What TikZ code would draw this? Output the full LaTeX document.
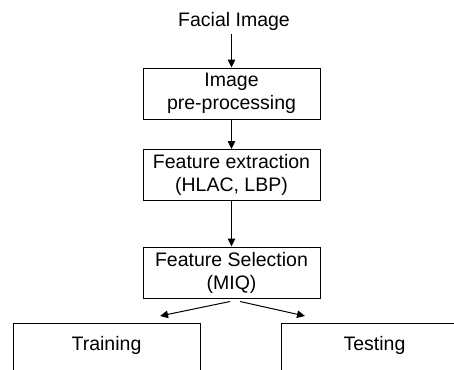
\documentclass[tikz,border=0pt]{standalone}
\usepackage{fontspec}
\setmainfont{Liberation Sans}
\usetikzlibrary{arrows.meta,calc}

\begin{document}
\begin{tikzpicture}[x=1pt, y=-1pt, >={Triangle[length=8pt,width=7.5pt]}, line width=1pt,
    every node/.style={font=\fontsize{19.5}{23}\selectfont},
    stage/.style={draw, align=center, minimum width=177pt, minimum height=51pt, inner sep=0pt},
    branch/.style={draw, minimum width=187pt, text height=27pt, text depth=40pt, inner ysep=0pt, anchor=base}]
    % Frame
    \useasboundingbox (0,0) rectangle (454,369);
    \clip (0,0) rectangle (454,369);

    % Input
    \node (face) at (234,21) {Facial Image};

    % Stages
    \node[stage] (prep) at (231.5,93.5) {Image\\pre-processing};
    \node[stage] (extract) at (231.5,175) {Feature extraction\\(HLAC, LBP)};
    \node[stage] (select) at (231.5,272.5) {Feature Selection\\(MIQ)};

    % Training and testing
    \node[branch] (train) at (106.5,350) {Training};
    \node[branch] (test) at (374.5,350) {Testing};

    % Arrows
    \draw[->] (prep.north |- face.south) -- (prep.north);
    \draw[->] (prep) -- (extract);
    \draw[->] (extract) -- (select);

    \coordinate (fork l) at ($(select.south)+(-1.5,3)$);
    \coordinate (fork r) at ($(select.south)+(8.5,3)$);
    \coordinate (tip l) at (160,316);
    \coordinate (tip r) at (305,316);
    \draw[->] (fork l) -- (tip l);
    \draw[->] (fork r) -- (tip r);
\end{tikzpicture}
\end{document}
